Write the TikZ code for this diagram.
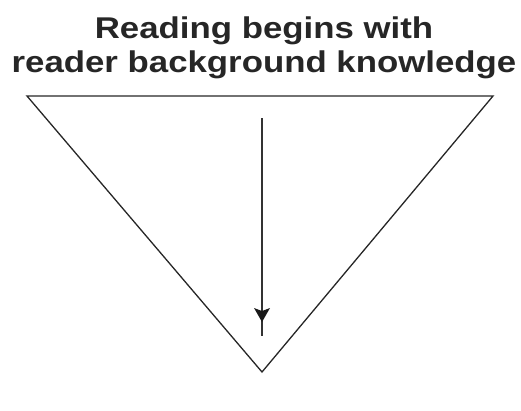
\documentclass[tikz,border=0pt]{standalone}
\usepackage{fontspec}
\setmainfont{Liberation Sans}
\begin{document}
\begin{tikzpicture}[x=1pt,y=-1pt,
  edge/.style={line width=1.3pt,draw=black!85},
  title/.style={font=\bfseries\fontsize{30}{34}\selectfont,anchor=base,inner sep=0pt,text=black!85}]
\useasboundingbox (0,0) rectangle (521,410);
\coordinate (tl) at (27,96);
\coordinate (tr) at (493,96);
\coordinate (ap) at (262,372);
\draw[edge,line join=miter] (tl) -- (tr) -- (ap) -- cycle;
\node[title] (t1) at (264,38) {\scalebox{1.16}[1]{Reading begins with}};
\node[title] (t2) at (264,72) {\scalebox{1.16}[1]{reader background knowledge}};
\coordinate (a0) at (262,118);
\coordinate (a1) at (262,336);
\draw[line width=1.1pt,draw=black!80] (a0) -- (a1);
\fill[black!90] (254,308) -- (262,311) -- (270,308) -- (262,322) -- cycle;
\end{tikzpicture}
\end{document}
